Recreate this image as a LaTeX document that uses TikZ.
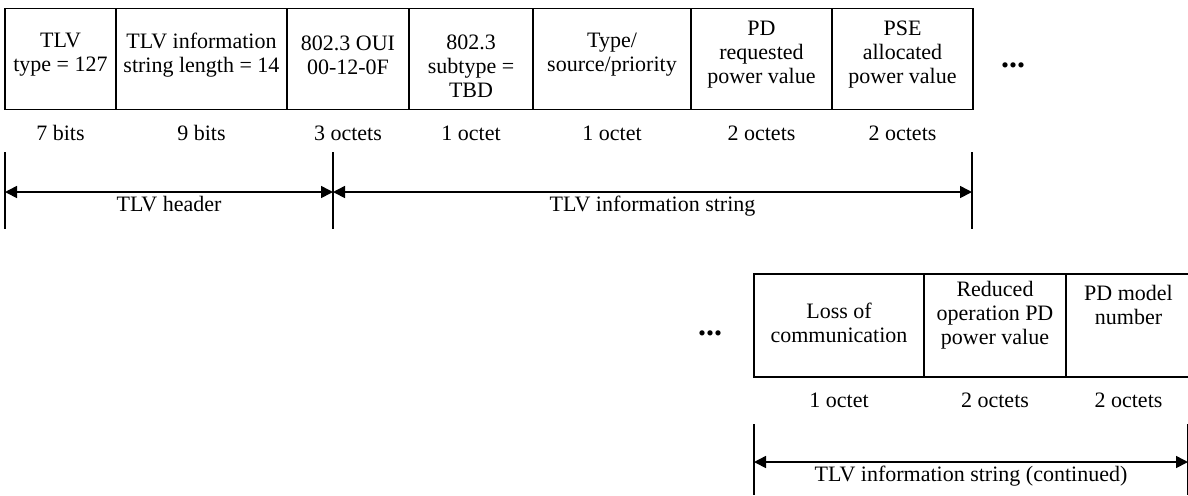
\documentclass[tikz,border=0pt]{standalone}
\usepackage{fontspec}
\setmainfont{Liberation Serif}
\usetikzlibrary{arrows.meta}
\begin{document}
\begin{tikzpicture}[x=0.5pt,y=-0.5pt]
\tikzstyle{field}=[draw,line width=0.9pt,inner sep=0pt]
\tikzstyle{fieldtext}=[align=center,inner sep=0pt,font=\fontsize{11}{12}\selectfont]
\tikzstyle{size}=[font=\fontsize{11}{12}\selectfont]
\tikzstyle{more}=[inner sep=0pt,font=\fontsize{16}{16}\selectfont\bfseries]
\tikzstyle{tick}=[line width=0.7pt]
\tikzstyle{span}=[line width=0.8pt,{Triangle[length=6pt,width=6pt]}-{Triangle[length=6pt,width=6pt]}]
\tikzstyle{spanlabel}=[midway,below,inner sep=1.5pt,font=\fontsize{11}{12}\selectfont]
\useasboundingbox (0,0) rectangle (1188,495);
\foreach \name/\xa/\xb/\ya/\yb/\ty/\txt/\len in {
	tlvtype/5/116/8.5/109.5/55/{TLV\\type = 127}/{7 bits},
	tlvlen/116/287/8.5/109.5/55/{TLV information\\string length = 14}/{9 bits},
	oui/287/409/8.5/109.5/55/{802.3 OUI\\00-12-0F}/{3 octets},
	subtype/409/533/8.5/109.5/66/{802.3\\subtype =\\TBD}/{1 octet},
	tsp/533/691/8.5/109.5/55/{Type/\\source/priority}/{1 octet},
	pdreq/691/832/8.5/109.5/55/{PD\\requested\\power value}/{2 octets},
	psealloc/832/973/8.5/109.5/55/{PSE\\allocated\\power value}/{2 octets},
	loss/754/924/274/377/323/{Loss of\\communication}/{1 octet},
	reduced/924/1066/274/377/315/{Reduced\\operation PD\\power value}/{2 octets},
	model/1066/1191/274/377/305/{PD model\\number}/{2 octets}}
{
	\node[field,minimum width={(\xb-\xa)*0.5pt},minimum height={(\yb-\ya)*0.5pt}] (\name) at ({(\xa+\xb)/2},{(\ya+\yb)/2}) {};
	\node[fieldtext] (\name txt) at ({(\xa+\xb)/2},\ty) {\txt};
	\node[size] (\name len) at ({(\xa+\xb)/2},\yb+23.5) {\len};
}
\node[more] (more) at (1013,65) {...};
\node[more] (morecont) at (710,333) {...};
\foreach \name/\point in {
	hdrT/{5,152}, hdrB/{5,229}, hdrL/{5,192},
	midT/{333,152}, midB/{333,229}, midM/{333,192},
	strT/{972,152}, strB/{972,229}, strR/{972,192},
	contT/{754,424}, contB/{754,495}, contL/{754,462},
	endT/{1188,424}, endB/{1188,495}, contR/{1188,462}}
	\coordinate (\name) at (\point);
\draw[tick] (hdrT) -- (hdrB);
\draw[tick] (midT) -- (midB);
\draw[tick] (strT) -- (strB);
\draw[tick] (contT) -- (contB);
\draw[tick] (endT) -- (endB);
\draw[span] (hdrL) -- (midM) node[spanlabel] {TLV header};
\draw[span] (midM) -- (strR) node[spanlabel] {TLV information string};
\draw[span] (contL) -- (contR) node[spanlabel] {TLV information string (continued)};
\end{tikzpicture}
\end{document}
